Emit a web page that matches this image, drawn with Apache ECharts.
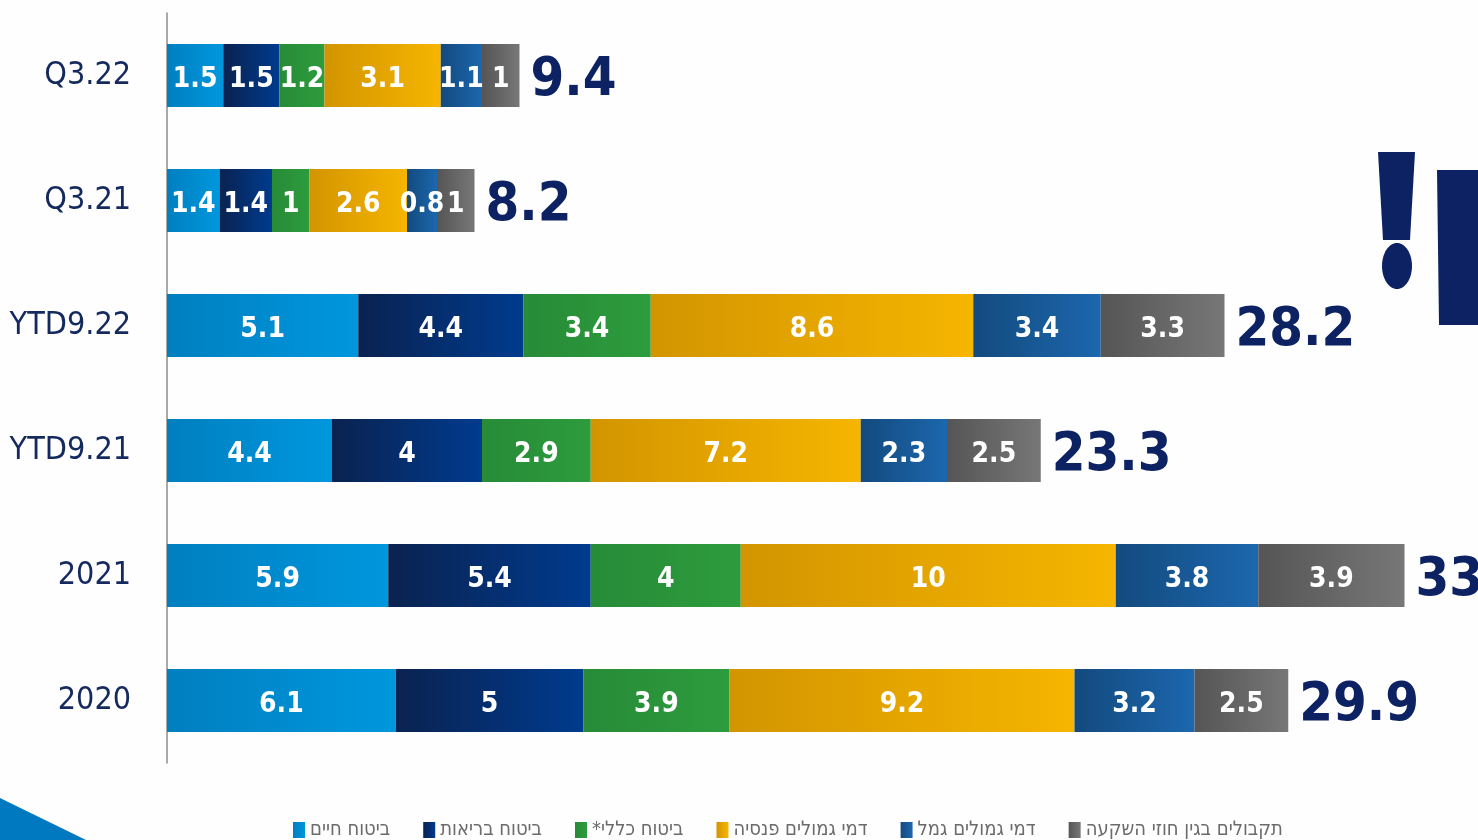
<!DOCTYPE html>
<html>
<head>
<meta charset="utf-8">
<script src="https://cdn.jsdelivr.net/npm/echarts@6/dist/echarts.min.js"></script>
<style>
  html, body { margin: 0; padding: 0; background: #ffffff; }
  #root { width: 1478px; height: 840px; }
</style>
</head>
<body>
<div id="root"></div>
<script>
// periods, top to bottom
const categories = ['Q3.22', 'Q3.21', 'YTD9.22', 'YTD9.21', '2021', '2020'];

// segment values per period
const lifeIns = [1.5, 1.4, 5.1, 4.4, 5.9, 6.1];
const healthIns = [1.5, 1.4, 4.4, 4.0, 5.4, 5.0];
const generalIns = [1.2, 1.0, 3.4, 2.9, 4.0, 3.9];
const pensionFees = [3.1, 2.6, 8.6, 7.2, 10, 9.2];
const gemelFees = [1.1, 0.8, 3.4, 2.3, 3.8, 3.2];
const investReceipts = [1.0, 1.0, 3.3, 2.5, 3.9, 2.5];
const totals = [9.4, 8.2, 28.2, 23.3, 33, 29.9];

const seriesNames = [
    'ביטוח חיים',
    'ביטוח בריאות',
    'ביטוח כללי*',
    'דמי גמולים פנסיה',
    'דמי גמולים גמל',
    'תקבולים בגין חוזי השקעה'
];

const COND = '"DejaVu Sans Condensed", "DejaVu Sans", sans-serif';
const NAVY = '#0c2262';

(function () {
    const chart = echarts.init(document.getElementById('root'), null, { renderer: 'canvas' });

    const grad = (a, b) => new echarts.graphic.LinearGradient(0, 0, 1, 0, [
        { offset: 0, color: a },
        { offset: 1, color: b }
    ]);

    const styles = [
        ['#007fc0', '#0097dd'],
        ['#0a2250', '#003b8e'],
        ['#278b37', '#2d9c3d'],
        ['#d29500', '#f6b500'],
        ['#134a7e', '#1c67ae'],
        ['#555555', '#777777']
    ];

    const values = [lifeIns, healthIns, generalIns, pensionFees, gemelFees, investReceipts];

    const series = values.map((vals, i) => ({
        name: seriesNames[i],
        type: 'bar',
        stack: 'total',
        barWidth: 63,
        data: vals,
        itemStyle: { color: grad(styles[i][0], styles[i][1]) },
        label: {
            show: true,
            position: 'inside',
            offset: [0, 4],
            color: '#ffffff',
            fontFamily: COND,
            fontStyle: 'condensed',
            fontWeight: 'bold',
            fontSize: 28
        }
    }));

    // total labels at the end of each bar
    series.push({
        name: 'total',
        type: 'bar',
        barWidth: 63,
        barGap: '-100%',
        data: totals,
        silent: true,
        itemStyle: { color: 'rgba(0,0,0,0)' },
        label: {
            show: true,
            position: 'right',
            distance: 11,
            offset: [0, 5],
            color: NAVY,
            fontFamily: COND,
            fontStyle: 'condensed',
            fontWeight: 'bold',
            fontSize: 54
        },
        z: 1
    });

    const option = {
        backgroundColor: '#fefefe',
        animation: false,
        graphic: [
            {
                type: 'polygon',
                silent: true,
                shape: { points: [[0, 798], [86, 840], [0, 840]] },
                style: { fill: '#0079c1' }
            },
            {
                type: 'polygon',
                silent: true,
                shape: { points: [[1378, 152], [1415, 152], [1410, 240], [1383, 240]] },
                style: { fill: NAVY }
            },
            {
                type: 'ellipse',
                silent: true,
                shape: { cx: 1397, cy: 266, rx: 15, ry: 23 },
                style: { fill: NAVY }
            },
            {
                type: 'polygon',
                silent: true,
                shape: { points: [[1437, 170], [1478, 170], [1478, 325], [1439, 325]] },
                style: { fill: NAVY }
            }
        ],
        legend: {
            data: seriesNames,
            top: 815,
            left: 288,
            itemWidth: 12,
            itemHeight: 16,
            itemGap: 33,
            icon: 'rect',
            // right-to-left mark keeps the trailing "*" on the Hebrew side
            formatter: (name) => name + '\u200F',
            textStyle: {
                color: '#6b6b6b',
                fontFamily: COND,
                fontStyle: 'condensed',
                fontSize: 20
            }
        },
        grid: {
            left: 167,
            right: 36,
            top: 13,
            height: 750,
            outerBoundsMode: 'none',
            containLabel: false
        },
        xAxis: {
            type: 'value',
            min: 0,
            max: 34,
            show: false
        },
        yAxis: {
            type: 'category',
            inverse: true,
            data: categories,
            axisLine: { show: true, lineStyle: { color: '#8c8c8c', width: 1.5 } },
            axisTick: { show: false },
            axisLabel: {
                margin: 36,
                padding: [14, 0, 0, 0],
                color: '#14295e',
                fontFamily: COND,
                fontStyle: 'condensed',
                fontSize: 32
            }
        },
        series: series
    };

    chart.setOption(option);
})();
</script>
</body>
</html>
